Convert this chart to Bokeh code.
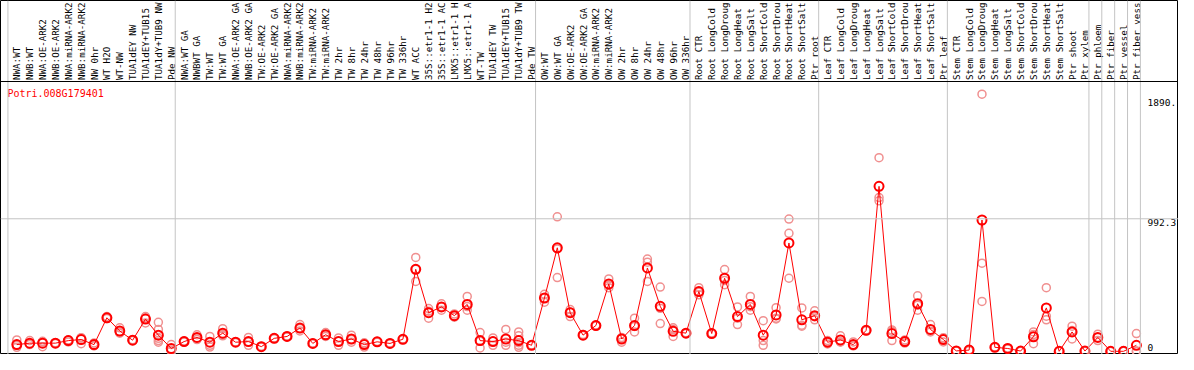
import math
from bokeh.plotting import figure
from bokeh.models import Range1d, Span
from bokeh.core.properties import value
from bokeh.embed import file_html
from bokeh.resources import INLINE

gene = "Potri.008G179401"

group_sizes = [13, 28, 12, 10, 10, 11, 1, 1, 1, 1]

# category labels as they are shown (cut to 14 characters)
categories = [
    "NWA:WT", "NWB:WT", "NWA:OE-ARK2", "NWB:OE-ARK2", "NWA:miRNA-ARK2", "NWB:miRNA-ARK2",
    "NW 0hr", "WT H2O", "WT-NW", "TUA1dEY NW", "TUA1dEY+TUB15", "TUA1dY+TUB9 NW", "Pde NW",
    "NWA:WT GA", "NWBWT GA", "TW:WT", "TW:WT GA", "NWA:OE-ARK2 GA", "NWB:OE-ARK2 GA",
    "TW:OE-ARK2", "TW:OE-ARK2 GA", "NWA:miRNA-ARK2", "NWB:miRNA-ARK2", "TW:miRNA-ARK2",
    "TW:miRNA-ARK2", "TW 2hr", "TW 8hr", "TW 24hr", "TW 48hr", "TW 96hr", "TW 336hr", "WT ACC",
    "35S::etr1-1 H2", "35S::etr1-1 AC", "LMX5::etr1-1 H", "LMX5::etr1-1 A", "WT-TW",
    "TUA1dEY TW", "TUA1dEY+TUB15", "TUA1dY+TUB9 TW", "Pde TW",
    "OW:WT", "OW:WT GA", "OW:OE-ARK2", "OW:OE-ARK2 GA", "OW:miRNA-ARK2", "OW:miRNA-ARK2",
    "OW 2hr", "OW 8hr", "OW 24hr", "OW 48hr", "OW 96hr", "OW 336hr",
    "Root CTR", "Root LongCold", "Root LongDroug", "Root LongHeat", "Root LongSalt",
    "Root ShortCold", "Root ShortDrou", "Root ShortHeat", "Root ShortSalt", "Ptr root",
    "Leaf CTR", "Leaf LongCold", "Leaf LongDroug", "Leaf LongHeat", "Leaf LongSalt",
    "Leaf ShortCold", "Leaf ShortDrou", "Leaf ShortHeat", "Leaf ShortSalt", "Ptr leaf",
    "Stem CTR", "Stem LongCold", "Stem LongDroug", "Stem LongHeat", "Stem LongSalt",
    "Stem ShortCold", "Stem ShortDrou", "Stem ShortHeat", "Stem ShortSalt", "Ptr shoot",
    "Ptr xylem", "Ptr phloem", "Ptr fiber", "Ptr vessel", "Ptr fiber vess",
]

means = [
    50, 61, 61, 61, 80, 88, 50, 251, 152, 83, 241, 121, 21,
    73, 104, 68, 136, 68, 73, 35, 97, 111, 174, 59, 124, 73, 92, 50, 71, 59, 90, 614,
    289, 332, 267, 351, 80, 73, 92, 80, 45,
    399, 775, 289, 121, 193, 504, 92, 193, 624, 337, 150, 136,
    447, 133, 547, 260, 351, 121, 272, 811, 236, 267,
    68, 85, 50, 157, 1235, 133, 73, 356, 164, 88,
    3, 9, 983, 30, 21, 2, 109, 325, 0, 145, 2,
    104, 0, 0, 45,
]

replicates = [
    [85, 45, 30], [80, 50, 55], [75, 35, 70], [61, 58, 64], [85, 70, 82], [102, 57, 100],
    [63, 45, 40], [260, 245, 250], [176, 136, 145], [83, 80, 86], [260, 212, 250],
    [217, 164, 97, 68, 80], [50, 2, 10],
    [78, 70, 72], [124, 88, 100], [111, 45, 32], [169, 116, 125], [70, 66, 68], [104, 45, 70],
    [35, 33, 37], [100, 94, 97], [115, 107, 111], [200, 152, 170], [60, 57, 60],
    [140, 111, 122], [100, 45, 75], [121, 68, 88], [64, 32, 54], [74, 68, 71], [62, 56, 59],
    [93, 87, 90], [703, 523, 615], [320, 248, 300], [356, 308, 333], [280, 255, 266],
    [411, 308, 335], [140, 25, 75], [100, 45, 75], [164, 45, 68], [145, 116, 64, 45, 30],
    [47, 43, 45],
    [427, 368, 400], [1007, 552, 766], [313, 260, 294], [125, 118, 120], [197, 190, 193],
    [542, 476, 494], [104, 68, 98], [248, 145, 186], [691, 667, 523], [481, 208, 322],
    [176, 111, 163], [139, 133, 136],
    [476, 423, 442], [137, 130, 133], [612, 499, 530], [332, 200, 248], [411, 308, 334],
    [229, 80, 45], [327, 248, 242], [990, 883, 547], [325, 188, 195], [303, 236, 258],
    [80, 55, 70], [116, 70, 70], [70, 40, 45], [160, 154, 157], [1450, 1151, 1127],
    [160, 80, 150], [85, 62, 73], [416, 308, 345], [200, 145, 150], [102, 70, 92],
    [2, 4, 3], [12, 5, 10], [1925, 660, 373], [32, 28, 30], [25, 18, 20], [5, 0, 2],
    [145, 57, 125], [476, 236, 263], [2, 0, 0], [188, 92, 155], [4, 0, 2],
    [128, 80, 104], [0, 0, 0], [5, 0, 0], [133, 0, 2],
]

y_ticks = [0, 992.3, 1890.0]
y_tick_labels = ["0", "992.3", "1890."]

# ---- layout (pixels inside the figure) ----
W, H = 1178, 354
PX_X0 = 7.43         # pixel of first category boundary
PX_STEP = 12.869     # pixels per category
PT_OFF = 0.69        # point position inside a category cell
PY0 = 350.8          # pixel row of value 0
PY_SCALE = 0.13356   # pixels per unit
DIVIDER_PY = 81
LABEL_PY = 79.5


def xd(px):
    return (px - PX_X0) / PX_STEP


def yd(py):
    return (PY0 - py) / PY_SCALE


p = figure(
    width=W, height=H, output_backend="svg", toolbar_location=None,
    x_range=Range1d(xd(0), xd(W)), y_range=Range1d(yd(H), yd(0)),
    x_axis_location=None, y_axis_location=None,
    min_border=0, min_border_left=0, min_border_right=0, min_border_top=0, min_border_bottom=0,
)
p.grid.visible = False
p.outline_line_color = "black"
p.outline_line_width = 1
p.background_fill_color = "white"
p.border_fill_color = "white"

# separators between sample groups
bounds = [0]
for g in group_sizes:
    bounds.append(bounds[-1] + g)
for b in bounds:
    p.add_layout(Span(location=b, dimension="height", line_color="#c4c4c4", line_width=1))

# grid line at the middle tick
p.add_layout(Span(location=y_ticks[1], dimension="width", line_color="#c4c4c4", line_width=1))
# divider between label band and plot
p.add_layout(Span(location=yd(DIVIDER_PY), dimension="width", line_color="black", line_width=1))

xs = [i + PT_OFF for i in range(len(categories))]

# replicates
rx, ry = [], []
for i, reps in enumerate(replicates):
    for v in reps:
        rx.append(xs[i])
        ry.append(v)
p.scatter(rx, ry, marker="circle", size=8, fill_color=None,
          line_color="#f09090", line_width=1.5)

# mean line and markers
p.line(xs, means, line_color="red", line_width=1)
p.scatter(xs, means, marker="circle", size=9, fill_color=None,
          line_color="#ff0000", line_width=2)

# category labels (vertical)
p.text(x=xs, y=[yd(LABEL_PY)] * len(categories), text=categories, angle=math.pi / 2,
       text_align="left", text_baseline="middle",
       text_font=value("DejaVu Sans Mono"), text_font_size="9.2px", text_color="black")

# gene title
p.text(x=[xd(6.9)], y=[yd(92.5)], text=[gene], text_align="left", text_baseline="middle",
       text_font=value("DejaVu Sans Mono"), text_font_size="10px", text_color="red")

# right-side value labels
off = 3.8 / PY_SCALE
ty = [v + off if v == 0 else v - off for v in y_ticks]
p.text(x=[xd(1147)] * len(y_ticks), y=ty, text=y_tick_labels, text_align="left",
       text_baseline="middle", text_font=value("DejaVu Sans Mono"),
       text_font_size="9.5px", text_color="black")

open("out.html", "w").write(file_html(p, INLINE))
